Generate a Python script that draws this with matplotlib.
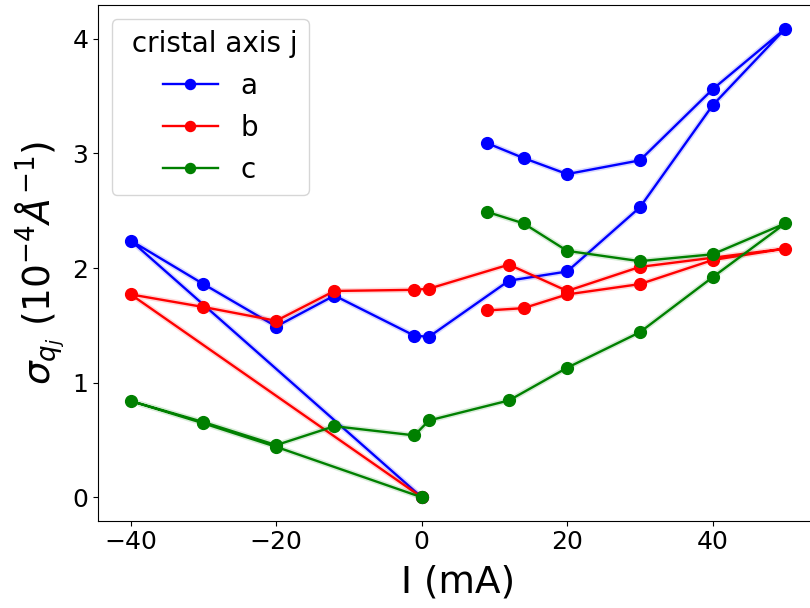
import matplotlib.pyplot as plt

# current sweep (mA), same order for every axis
I_a = [0, -40, -30, -20, -12, -1, 1, 12, 20, 30, 40, 50, 40, 30, 20, 14, 9]
sig_a = [0, 2.24, 1.86, 1.49, 1.76, 1.41, 1.40, 1.89, 1.97, 2.53, 3.42, 4.09, 3.56, 2.94, 2.82, 2.96, 3.09]

I_b = [0, -40, -30, -20, -12, -1, 1, 12, 20, 30, 40, 50, 40, 30, 20, 14, 9]
sig_b = [0, 1.77, 1.66, 1.54, 1.80, 1.81, 1.82, 2.03, 1.80, 2.01, 2.09, 2.17, 2.07, 1.86, 1.77, 1.65, 1.63]

I_c = [0, -20, -30, -40, -30, -20, -12, -1, 1, 12, 20, 30, 40, 50, 40, 30, 20, 14, 9]
sig_c = [0, 0.44, 0.645, 0.84, 0.656, 0.455, 0.62, 0.54, 0.67, 0.845, 1.13, 1.44, 1.92, 2.39, 2.12, 2.06, 2.15, 2.39, 2.49]

axes_names = ['a', 'b', 'c']
colors = ['blue', 'red', 'green']

fig = plt.figure(figsize=(8.1, 6.08), dpi=100)
ax = fig.add_axes([0.121, 0.1436, 0.889, 0.848])

for I, s, name, col in zip([I_a, I_b, I_c], [sig_a, sig_b, sig_c], axes_names, colors):
    # faint halo under each line
    ax.plot(I, s, '-', color=col, lw=4, alpha=0.15)
    ax.plot(I, s, 'o-', color=col, lw=1.7, markersize=8.5, label=name)

ax.set_xlim(-44.5, 54.5)
ax.set_ylim(-0.2045, 4.2945)
ax.set_yticks([0, 1, 2, 3, 4])
ax.tick_params(labelsize=18)
ax.set_xlabel('I (mA)', fontsize=27, labelpad=7)
ax.set_ylabel(r'$\sigma_{q_j}$ ($10^{-4}\AA^{-1}$)', fontsize=27)

leg = ax.legend(title=' cristal axis j', loc='upper left', fontsize=20,
                title_fontsize=20, markerscale=0.85)

plt.savefig('out.png')
